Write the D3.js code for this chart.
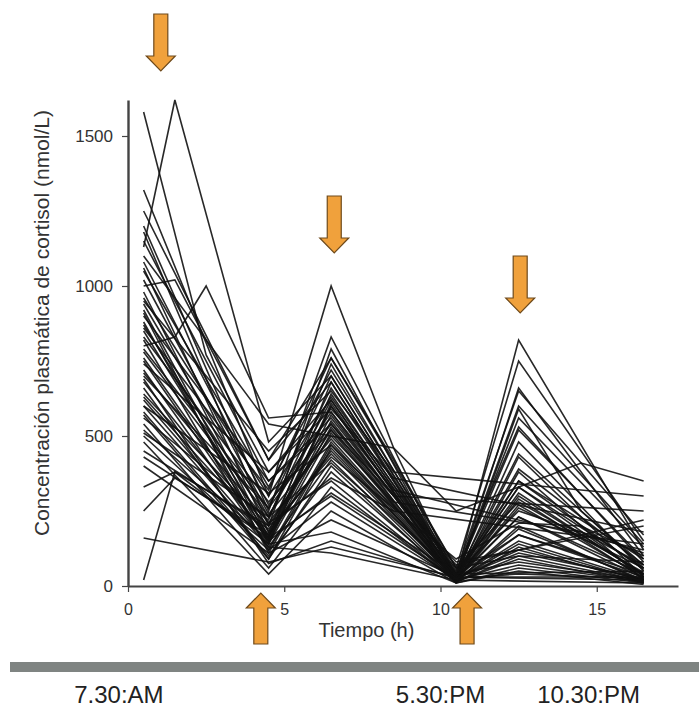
<!DOCTYPE html>
<html>
<head>
<meta charset="utf-8">
<script src="https://cdn.jsdelivr.net/npm/d3@7"></script>
<style>
  html, body { margin: 0; padding: 0; background: #fff; }
  svg { display: block; }
</style>
</head>
<body>
<div id="chart"></div>
<script>
// sampling times (h), same order as each subject row below
const sampleTimes = [0.5, 1.5, 2.5, 4.5, 6.5, 8.5, 10.5, 12.5, 14.5, 16.5]
const n = null

// plasma cortisol per subject (nmol/L), null = not sampled
const cortisol = [
  [1580, n, 770, 380, 620, n, 30, 440, n, 60],
  [1130, 1620, n, 480, 700, n, 40, 350, n, 90],
  [1320, n, n, 300, 1000, 460, 30, 820, n, 120],
  [800, 830, 1000, 560, 580, n, 20, 300, n, 40],
  [1000, 1020, n, 420, 760, n, 60, 750, n, 150],
  [1200, n, n, 250, 830, n, 25, 660, n, 100],
  [1180, n, n, 200, 790, n, 20, 590, 250, 70],
  [1100, n, n, 540, 500, 460, 250, n, 410, 350],
  [1050, n, n, 330, 720, n, 50, 530, n, 80],
  [980, n, n, 160, 680, n, 20, 480, n, 50],
  [950, n, n, 450, 650, 380, n, n, n, 300],
  [920, n, n, 150, 610, n, 15, 430, n, 30],
  [900, n, n, 350, 560, 300, n, n, n, 250],
  [880, n, n, 140, 600, n, 20, 380, n, 20],
  [850, n, n, 180, 640, n, 30, 330, n, 60],
  [830, n, n, 280, 520, n, 80, n, n, 200],
  [820, n, n, 120, 480, n, 20, 290, n, 25],
  [780, n, n, 230, 660, n, 40, 250, n, 110],
  [760, n, n, 170, 450, n, 25, 230, n, 40],
  [740, n, n, 380, 590, 360, n, n, n, 180],
  [720, n, n, 130, 420, n, 15, 200, n, 15],
  [700, n, n, 260, 700, n, 35, 170, n, 30],
  [680, n, n, 160, 550, n, 20, 150, n, 20],
  [660, n, n, 90, 400, n, 10, 130, n, 10],
  [640, n, n, 200, 360, 250, n, n, n, 140],
  [620, n, n, 140, 510, n, 25, 120, n, 20],
  [600, n, n, 310, 470, n, 60, 100, n, 80],
  [580, n, n, 100, 380, n, 20, 270, n, 30],
  [560, n, n, 220, 740, n, 30, 560, n, 130],
  [540, n, n, 60, 330, n, 15, 90, n, 10],
  [520, n, n, 150, 310, n, 40, n, n, 50],
  [500, n, n, 120, 280, n, 20, 70, n, 15],
  [480, n, n, 40, 250, n, 10, 60, n, 10],
  [450, n, n, 190, 430, n, 90, 210, 200, 100],
  [400, n, n, 110, 220, n, 30, n, n, 30],
  [330, 380, n, 140, 180, n, 10, 50, n, 5],
  [250, 360, n, 170, 600, n, 30, 390, n, 70],
  [160, n, n, 80, 130, n, 30, n, n, 20],
  [20, 380, n, 200, 520, n, 20, 170, n, 40],
  [1150, n, n, 350, 540, n, 70, n, n, 220],
  [1020, n, n, 240, 490, n, 25, 310, n, 35],
  [870, n, n, 210, 350, n, 15, 100, n, 15],
  [690, n, n, 75, 150, n, 25, 40, n, 25],
  [600, n, n, 130, 110, n, 20, n, n, 10],
  [960, n, n, 300, 630, n, 45, 650, n, 170],
  [1060, n, n, 180, 440, n, 20, 260, n, 60],
  [1250, n, n, 420, 680, n, 35, 520, n, 90],
  [1080, n, n, 270, 580, 320, n, n, n, 120],
  [940, n, n, 230, 620, n, 30, 600, n, 140],
  [910, n, n, 110, 470, n, 15, 190, n, 20],
  [860, n, n, 320, 760, 420, 60, 280, n, 45],
  [790, n, n, 260, 540, n, 25, 350, n, 55],
  [750, n, n, 150, 530, n, 20, 230, n, 25],
  [710, n, n, 210, 500, 280, n, n, 180, 70],
  [630, n, n, 170, 570, n, 30, 330, n, 35],
  [570, n, n, 90, 460, n, 20, 140, n, 15],
  [510, n, n, 230, 410, n, 40, 80, n, 20],
  [430, n, n, 160, 300, n, 25, 110, n, 25]
]

const xTicks = [0, 5, 10, 15]
const yTicks = [0, 500, 1000, 1500]
const doseDownTimes = [1.05, 6.6, 12.55]
const doseUpTimes = [4.25, 10.85]
const clockLabels = ['7.30:AM', '5.30:PM', '10.30:PM']
const clockTimes = [-0.29, 10.0, 14.74]

const options = {
  width: 699,
  height: 711,
  padding: { top: 100, right: 21, bottom: 125, left: 128 }
}
const fontFamily = '"Liberation Sans", Arial, Helvetica, sans-serif'
const textColor = '#333'
const axisColor = '#444'
const arrowFill = '#f0a13c'
const arrowStroke = '#6e4a1c'

const plotWidth = options.width - options.padding.left - options.padding.right
const plotHeight = options.height - options.padding.top - options.padding.bottom

const xScale = d3.scaleLinear().domain([0, 17.6]).range([0, plotWidth])
const yScale = d3.scaleLinear().domain([0, 1620]).range([plotHeight, 0])

const svg = d3.select('#chart')
  .append('svg')
  .attr('width', options.width)
  .attr('height', options.height)

const gPlot = svg.append('g')
  .attr('transform', `translate(${options.padding.left},${options.padding.top})`)

function createLines() {
  const line = d3.line()
    .x(d => xScale(d.t))
    .y(d => yScale(d.v))

  // each subject: join only the times that were sampled
  const series = cortisol.map(row =>
    row.map((v, i) => ({ t: sampleTimes[i], v })).filter(d => d.v !== null)
  )

  gPlot.append('g')
    .attr('class', 'gLines')
    .selectAll('path')
    .data(series)
    .enter()
    .append('path')
    .attr('d', line)
    .attr('fill', 'none')
    .attr('stroke', '#111')
    .attr('stroke-width', 1.6)
    .attr('stroke-linejoin', 'miter')
    .attr('stroke-opacity', 0.9)
}

function createXAxis() {
  const xAxis = d3.axisBottom(xScale)
    .tickValues(xTicks)
    .tickSize(6)
    .tickPadding(12)
    .tickSizeOuter(0)

  const gXAxis = gPlot.append('g')
    .attr('class', 'gXAxis')
    .attr('transform', `translate(0,${plotHeight})`)
    .call(xAxis)

  gXAxis.select('.domain').attr('stroke', axisColor).attr('stroke-width', 2)
  gXAxis.selectAll('.tick line').attr('stroke', axisColor).attr('stroke-width', 1.2)
  gXAxis.selectAll('.tick text')
    .attr('font-size', 16)
    .attr('font-family', fontFamily)
    .style('fill', textColor)

  gPlot.append('text')
    .attr('x', xScale(7.63))
    .attr('y', plotHeight + 51)
    .attr('text-anchor', 'middle')
    .attr('font-size', 20)
    .attr('font-family', fontFamily)
    .style('fill', textColor)
    .text('Tiempo (h)')
}

function createYAxis() {
  const yAxis = d3.axisLeft(yScale)
    .tickValues(yTicks)
    .tickFormat(d3.format('d'))
    .tickSize(6)
    .tickPadding(9)
    .tickSizeOuter(0)

  const gYAxis = gPlot.append('g')
    .attr('class', 'gYAxis')
    .call(yAxis)

  gYAxis.select('.domain').attr('stroke', axisColor).attr('stroke-width', 2.4)
  gYAxis.selectAll('.tick line').attr('stroke', axisColor).attr('stroke-width', 1.2)
  gYAxis.selectAll('.tick text')
    .attr('font-size', 17)
    .attr('font-family', fontFamily)
    .style('fill', textColor)

  gPlot.append('text')
    .attr('transform', `translate(${-79},${plotHeight / 2 - 20}) rotate(-90)`)
    .attr('text-anchor', 'middle')
    .attr('font-size', 21)
    .attr('font-family', fontFamily)
    .style('fill', textColor)
    .text('Concentración plasmática de cortisol (nmol/L)')
}

// block arrow, tip at (0,0), pointing down; flipped for the up arrows
function arrowPath(len, shaft, head, headLen) {
  const s = shaft / 2
  const h = head / 2
  return `M${-s},${-len} L${s},${-len} L${s},${-headLen} L${h},${-headLen} L0,0 L${-h},${-headLen} L${-s},${-headLen} Z`
}

function createArrows() {
  const gArrows = svg.append('g').attr('class', 'gArrows')
  const downTips = [71, 253, 313]

  gArrows.selectAll('.down')
    .data(doseDownTimes)
    .enter()
    .append('path')
    .attr('class', 'down')
    .attr('transform', (d, i) => `translate(${options.padding.left + xScale(d)},${downTips[i]})`)
    .attr('d', arrowPath(57, 14, 29, 15))
    .attr('fill', arrowFill)
    .attr('stroke', arrowStroke)
    .attr('stroke-width', 1.2)

  gArrows.selectAll('.up')
    .data(doseUpTimes)
    .enter()
    .append('path')
    .attr('class', 'up')
    .attr('transform', d => `translate(${options.padding.left + xScale(d)},${593}) scale(1,-1)`)
    .attr('d', arrowPath(51, 14, 29, 15))
    .attr('fill', arrowFill)
    .attr('stroke', arrowStroke)
    .attr('stroke-width', 1.2)
}

function createTimeBar() {
  svg.append('rect')
    .attr('x', 10)
    .attr('y', 662)
    .attr('width', options.width - 10)
    .attr('height', 10)
    .attr('fill', '#7f8482')

  svg.append('g')
    .attr('class', 'gClock')
    .selectAll('text')
    .data(clockLabels)
    .enter()
    .append('text')
    .attr('x', (d, i) => options.padding.left + xScale(clockTimes[i]))
    .attr('y', 703)
    .attr('text-anchor', 'middle')
    .attr('font-size', 24)
    .attr('font-family', fontFamily)
    .style('fill', '#222')
    .text(d => d)
}

createLines()
createXAxis()
createYAxis()
createArrows()
createTimeBar()
</script>
</body>
</html>
